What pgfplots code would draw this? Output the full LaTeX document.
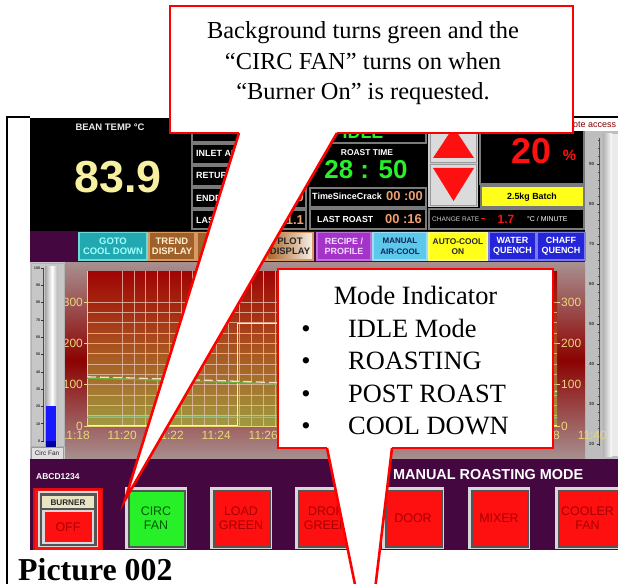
\documentclass[border=0pt]{standalone}
\usepackage{pgfplots}
\pgfplotsset{compat=1.18}
\usepackage{fontspec}
\setmainfont{Liberation Serif}
\newfontfamily\ui{Liberation Sans}
\newcommand\fs[1]{\fontsize{#1}{#1}\selectfont}
\definecolor{calred}{HTML}{FF0000}
\definecolor{purp}{HTML}{44073F}
\definecolor{cellb}{HTML}{7A7A7A}
\definecolor{beanyel}{HTML}{F6F0A0}
\definecolor{grn}{HTML}{2AF02A}
\definecolor{orng}{HTML}{F0A070}
\definecolor{teal}{HTML}{22A8B0}
\definecolor{tealb}{HTML}{70D8D8}
\definecolor{tealt}{HTML}{A0FFFF}
\definecolor{brn}{HTML}{A0602A}
\definecolor{brnb}{HTML}{D89A60}
\definecolor{brnt}{HTML}{FFF0D0}
\definecolor{purpbtn}{HTML}{A434C8}
\definecolor{purpbt}{HTML}{F4DCFF}
\definecolor{lblue}{HTML}{5CC8EC}
\definecolor{navy}{HTML}{102050}
\definecolor{yell}{HTML}{FFFF1A}
\definecolor{blu}{HTML}{2424D8}
\definecolor{bgtop}{HTML}{A00404}
\definecolor{bgmid}{HTML}{A85420}
\definecolor{bgbot}{HTML}{A09A40}
\definecolor{pnlout}{HTML}{A89090}
\definecolor{pnlmid}{HTML}{8C0202}
\definecolor{lblc}{HTML}{E8D878}
\definecolor{gridc}{HTML}{E8BCAC}
\definecolor{btnred}{HTML}{FF1010}
\definecolor{btngrn}{HTML}{28F028}
\definecolor{btnt}{HTML}{A80000}
\definecolor{btngt}{HTML}{005A00}
\definecolor{beige}{HTML}{E8E4C4}
\definecolor{maroon}{HTML}{800000}
\definecolor{bevl}{HTML}{D8D8D8}
\definecolor{bevd}{HTML}{555555}
\definecolor{stripg}{HTML}{BDBDBD}
\definecolor{linegrn}{HTML}{6CB040}
\definecolor{linepk}{HTML}{F2DCCC}
\definecolor{linecy}{HTML}{48D8C8}
\definecolor{linewh}{HTML}{F0F0E6}

\newcommand\tbtn[7]{%
  \draw[#4, line width=1.2, fill=#3] (#1,232.5) rectangle (#2,260);
  \node[align=center, font=\ui\bfseries\fontsize{#7}{10.5}\selectfont, text=#5, inner sep=0] at ({(#1+#2)/2},246.5) {#6};}
\newcommand\bbtn[7]{%
  \fill[bevl] (#1,#2) rectangle (#3,#4);
  \fill[bevd] (#1+2.5,#2+2.5) rectangle (#3-1.5,#4-1.5);
  \fill[#5] (#1+4.5,#2+4.5) rectangle (#3-3.5,#4-3.5);
  \node[align=center, font=\ui\fontsize{12.5}{14}\selectfont, text=#6, inner sep=0] at ({(#1+#3)/2},{(#2+#4)/2}) {#7};}

\begin{document}
\begin{tikzpicture}[x=1bp,y=-1bp]
\useasboundingbox (0,0) rectangle (618,584);
\clip (0,0) rectangle (618,584);
\fill[white] (0,0) rectangle (618,584);

% ---------- screen top ----------
\fill[black] (30,118) rectangle (585,231);
\node[font=\ui\bfseries\fs{9.5}, text=white!92!black] at (110,127.5) {BEAN TEMP °C};
\node[font=\ui\bfseries\fs{45}, text=beanyel, anchor=base, inner sep=0] at (118,192) {83.9};

\foreach \ya/\yb in {120/142, 144/164, 166/186, 188/208, 210/229} {
  \draw[cellb, line width=1.2] (192,\ya) rectangle (263,\yb);
  \draw[cellb, line width=1.2] (265,\ya) rectangle (306,\yb);
}
\foreach \t/\yy in {INLET AIR/157, RETURN AIR/179, ENDPOINT/201, LAST CRACK/223} {
  \node[anchor=base west, font=\ui\bfseries\fs{9}, text=white, inner sep=0] at (196,\yy) {\t};
}
\node[anchor=base east, font=\ui\bfseries\fs{13}, text=orng, inner sep=0] at (304,201) {0.0};
\node[anchor=base east, font=\ui\bfseries\fs{13}, text=orng, inner sep=0] at (304,224) {21.1};

\draw[cellb, line width=1.2] (310,120) rectangle (426,143);
\draw[cellb, line width=1.2] (310,188) rectangle (426,207);
\draw[cellb, line width=1.2] (310,209) rectangle (426,229);
\node[anchor=base, font=\ui\bfseries\fs{18}, text=grn, inner sep=0] at (363,139) {IDLE};
\node[anchor=base, font=\ui\bfseries\fs{8.5}, text=white, inner sep=0] at (367,156) {ROAST TIME};
\node[anchor=base, font=\ui\bfseries\fs{26}, text=grn, inner sep=0] at (366,179) {28 : 50};
\node[anchor=base west, font=\ui\bfseries\fs{9}, text=white, inner sep=0] at (312,199) {TimeSinceCrack};
\node[anchor=base east, font=\ui\bfseries\fs{13}, text=orng, inner sep=0] at (423,200.5) {00 :00};
\node[anchor=base west, font=\ui\bfseries\fs{8.8}, text=white, inner sep=0] at (317,222) {LAST ROAST};
\node[anchor=base east, font=\ui\bfseries\fs{13}, text=orng, inner sep=0] at (422,223.5) {00 :16};

% arrows
\fill[black!20] (428,118) rectangle (478,207);
\draw[black!40, fill=black!14, line width=1] (430,121) rectangle (476,162);
\draw[black!40, fill=black!14, line width=1] (430,164) rectangle (476,205);
\fill[btnred] (453.5,127) -- (433,158) -- (474,158) -- cycle;
\fill[btnred] (433,168) -- (474,168) -- (453.5,201) -- cycle;

% 20 % panel
\draw[cellb, line width=1.2, fill=black] (480,120) rectangle (584,184);
\node[anchor=base, font=\ui\bfseries\fs{36}, text=btnred, inner sep=0] at (531,164) {20};
\node[anchor=base, font=\ui\bfseries\fs{15}, text=btnred, inner sep=0] at (569.5,161) {\%};
\draw[cellb, line width=1.2, fill=yell] (481,186) rectangle (584,207);
\node[anchor=base, font=\ui\bfseries\fs{8.9}, text=black, inner sep=0] at (532,199.5) {2.5kg Batch};
\draw[cellb, line width=1.2] (429,209) rectangle (584,229);
\node[anchor=base west, font=\ui\fs{6.6}, text=white!80!black, inner sep=0] at (432,221) {CHANGE RATE};
\fill[btnred] (481,217.5) rectangle (485,219);
\node[anchor=base west, font=\ui\bfseries\fs{12}, text=btnred, inner sep=0] at (497.5,223) {1.7};
\node[anchor=base west, font=\ui\fs{7}, text=white, inner sep=0] at (527,221) {°C / MINUTE};

% right strip
\fill[white] (566,118.5) rectangle (618,131);
\node[anchor=base west, font=\ui\fs{9}, text=maroon, inner sep=0] at (554,127.5) {Remote access};
\fill[stripg] (585,131) rectangle (618,459);
\shade[left color=black!30, right color=white] (603,134) rectangle (612,456);
\fill[white!92!black] (612,134) rectangle (618,456);
\draw[black!70, line width=0.6] (599.5,138) -- (599.5,446);
\foreach \k in {0,...,38} { \draw[black!70, line width=0.5] (598,{444-\k*8}) -- (599.5,{444-\k*8}); }
\foreach \v in {20,30,...,90} {
  \draw[black!80, line width=0.6] (596.5,{444-(\v-20)*4}) -- (599.5,{444-(\v-20)*4});
  \node[font=\ui\bfseries\fs{4.5}, text=black!80, inner sep=0] at (591.5,{444-(\v-20)*4}) {\v};
}

% ---------- top button row ----------
\fill[purp] (30,231) rectangle (585,262);
\tbtn{79}{147}{teal}{tealb}{tealt}{GOTO\\COOL DOWN}{9.5}
\tbtn{149}{195}{brn}{brnb}{brnt}{TREND\\DISPLAY}{9.5}
\tbtn{197}{265}{brn}{brnb}{brnt}{HISTORY\\DATA}{9.5}
\shade[left color=brn!90!orange, right color=white!90!brown] (267,232.5) rectangle (313,260);
\draw[brnb, line width=1.2] (267,232.5) rectangle (313,260);
\node[align=center, font=\ui\bfseries\fontsize{9.5}{10.5}\selectfont, text=black!85, inner sep=0] at (290,246.5) {PLOT\\DISPLAY};
\tbtn{317}{371}{purpbtn}{purpbtn!70!white}{purpbt}{RECIPE /\\PROFILE}{9}
\tbtn{373}{427}{lblue}{lblue!60!white}{navy}{MANUAL\\AIR-COOL}{8}
\tbtn{429}{487}{yell}{yell!60!white}{black!85}{AUTO-COOL\\ON}{8.4}
\tbtn{489}{536}{blu}{blu!60!white}{white}{WATER\\QUENCH}{9}
\tbtn{537}{585}{blu}{blu!60!white}{white}{CHAFF\\QUENCH}{9}

% ---------- chart panel ----------
\shade[top color=pnlout, bottom color=pnlout, middle color=pnlmid] (65,262) rectangle (585,459);

\begin{scope}[x=1bp, y=1bp]
\begin{axis}[at={(87bp,-426bp)}, anchor=south west, scale only axis,
  width=470bp, height=155bp,
  xmin=18.5, xmax=38.5, ymin=0, ymax=375,
  xtick={20,22,...,38}, xticklabels={}, minor x tick num=3,
  ytick={0,100,200,300}, minor y tick num=3,
  grid=both,
  major grid style={draw=gridc, line width=0.6, opacity=0.8},
  minor grid style={draw=gridc, line width=0.6, opacity=0.8},
  axis background/.style={top color=bgtop, bottom color=bgbot, middle color=bgmid},
  axis lines*=left,
  axis line style={draw=lblc, line width=0.8, -},
  xtick style={draw=none},
  ytick style={draw=lblc, line width=0.8},
  tick align=outside, major tick length=3bp, minor tick length=0bp,
  /pgf/number format/assume math mode=true,
  yticklabel style={font=\ui\fs{12}, text=lblc, inner sep=1pt},
  clip=false]
\addplot[linewh, line width=0.8] coordinates {(18.5,1)(24.9,1)(24.9,249)(33,249)(33,1)(38.5,1)};
\addplot[linecy, line width=1.2] coordinates {(18.5,21)(24,21)(30,20.5)(38.5,20)};
\addplot[linegrn, line width=1.6] coordinates {(18.5,116)(20,114)(21,112)(22,110.5)(23,108.5)(24,107)(25,105)(26,103)(27,101)(28,99.5)(30,96)(32,92)(34,88.5)(36,85)(38.5,81)};
\addplot[linepk, line width=1.3, dash pattern=on 9bp off 4bp] coordinates {(18.5,119)(20,117)(21,115)(22,113.5)(23,111.5)(24,110)(25,108)(26,106)(27,104)(28,102.5)(30,99)(32,95)(34,91.5)(36,88)(38.5,84)};
\end{axis}

\begin{axis}[at={(75.25bp,-426bp)}, anchor=south west, scale only axis,
  width=517bp, height=155bp, xmin=18, xmax=40, ymin=0, ymax=1,
  hide y axis, axis x line*=bottom, x axis line style={draw=none, -},
  xtick={18,20,...,40},
  xticklabels={11:18,11:20,11:22,11:24,11:26,11:28,11:30,11:32,11:34,11:36,11:38,11:40},
  xtick style={draw=none},
  xticklabel style={font=\ui\fs{12}, text=lblc, inner sep=1pt, yshift=-4bp}]
\addplot[draw=none] coordinates {(18,0)(40,1)};
\end{axis}

\begin{axis}[at={(87bp,-426bp)}, anchor=south west, scale only axis,
  width=470bp, height=155bp, xmin=18.5, xmax=38.5, ymin=0, ymax=375,
  hide x axis, axis y line*=right, y axis line style={draw=none, -},
  ytick={0,100,200,300},
  ytick style={draw=lblc, line width=0.8},
  tick align=outside, major tick length=3bp,
  /pgf/number format/assume math mode=true,
  yticklabel style={font=\ui\fs{12}, text=lblc, inner sep=1pt}]
\addplot[draw=none] coordinates {(18.5,0)(38.5,375)};
\end{axis}
\end{scope}

% thermometer panel
\fill[black!22] (30,262) rectangle (65,460);
\draw[white!70!black, line width=1] (31,263) rectangle (64,446);
\shade[left color=black!35, right color=white] (45,266) rectangle (52,447);
\shade[left color=white, right color=black!30] (52,266) rectangle (58,447);
\fill[blue!90!white] (46,406) rectangle (56,441);
\fill[blue!60!black] (46,441) rectangle (56,447);
\draw[black!70, line width=0.5] (43.5,268) -- (43.5,441);
\foreach \k in {0,...,50} { \draw[black!70, line width=0.4] (42.5,{441-\k*3.46}) -- (43.5,{441-\k*3.46}); }
\foreach \v in {0,10,...,100} {
  \draw[black!80, line width=0.6] (41,{441-\v*1.73}) -- (43.5,{441-\v*1.73});
  \node[font=\ui\bfseries\fs{3.8}, text=black!80, inner sep=0, anchor=east] at (40.5,{441-\v*1.73}) {\v};
}
\draw[black!40, fill=white!88!black, line width=0.6] (31,447.5) rectangle (63,459);
\node[font=\ui\fs{6.5}, text=black!85, inner sep=0] at (47,453.5) {Circ Fan};

% ---------- bottom area ----------
\fill[purp] (30,459) rectangle (618,550);
\node[anchor=base west, font=\ui\bfseries\fs{8.5}, text=white, inner sep=0] at (36,479.5) {ABCD1234};
\node[anchor=base east, font=\ui\bfseries\fs{14.5}, text=white, inner sep=0] at (583.5,479) {MANUAL ROASTING MODE};

% burner
\fill[btnred!85!black] (33,488) rectangle (103,550);
\fill[btnred] (34.5,489.5) rectangle (101.5,550);
\fill[bevl] (38,491) rectangle (98,547);
\fill[bevd] (40,493) rectangle (97,546);
\fill[beige] (42,496) rectangle (94,508);
\node[font=\ui\bfseries\fs{8.2}, text=black!85, inner sep=0] at (68,502.5) {BURNER};
\fill[bevl] (42,509.5) rectangle (94,544);
\fill[btnred] (44.5,512) rectangle (92,541.5);
\node[font=\ui\fs{12.5}, text=btnt, inner sep=0] at (68,527) {OFF};

\bbtn{125}{487}{187}{549}{btngrn}{btngt}{CIRC\\FAN}
\bbtn{210}{487}{272}{549}{btnred}{btnt}{LOAD\\GREEN}
\bbtn{295}{487}{357}{549}{btnred}{btnt}{DROP\\GREEN}
\bbtn{382}{487}{444}{549}{btnred}{btnt}{DOOR}
\bbtn{468}{487}{530}{549}{btnred}{btnt}{MIXER}
\bbtn{555}{487}{620}{549}{btnred}{btnt}{COOLER\\FAN}

% frame
\draw[black, line width=2.5] (7.2,590) -- (7.2,117.2) -- (30,117.2);
\draw[black, line width=2.5] (560,117.2) -- (625,117.2);

% ---------- top callout ----------
\fill[white] (170,6) rectangle (573,133);
\fill[white] (239,132) -- (125,500) -- (337,132) -- cycle;
\draw[calred, line width=2.6, line join=miter] (239,133) -- (170,133) -- (170,6) -- (573,6) -- (573,133) -- (337,133);
\draw[calred, line width=2.6, line join=miter] (239,133) -- (125,500) -- (337,133);
\node[anchor=base, font=\fs{24.5}, inner sep=0] at (363,39) {Background turns green and the};
\node[anchor=base, font=\fs{24.5}, inner sep=0] at (363,69.5) {“CIRC FAN” turns on when};
\node[anchor=base, font=\fs{24.5}, inner sep=0] at (363,100) {“Burner On” is requested.};

% ---------- mode callout ----------
\fill[white] (278,269) rectangle (553,448);
\fill[white] (327,447) -- (368,648) -- (392,447) -- cycle;
\draw[calred, line width=2.6, line join=miter] (327,448) -- (278,448) -- (278,269) -- (553,269) -- (553,448) -- (392,448);
\draw[calred, line width=2.6, line join=miter] (327,448) -- (368,648) -- (392,448);
\node[anchor=base, font=\fs{26.5}, inner sep=0] at (415.5,304) {Mode Indicator};
\foreach \t/\yy in {IDLE Mode/337, ROASTING/369.5, POST ROAST/402, COOL DOWN/434} {
  \node[anchor=base, font=\fs{26.5}, inner sep=0] at (306,\yy) {\textbullet};
  \node[anchor=base west, font=\fs{26.5}, inner sep=0] at (348,\yy) {\t};
}

\node[anchor=base west, font=\bfseries\fs{32}, inner sep=0] at (18,580) {Picture 002};
\end{tikzpicture}
\end{document}
